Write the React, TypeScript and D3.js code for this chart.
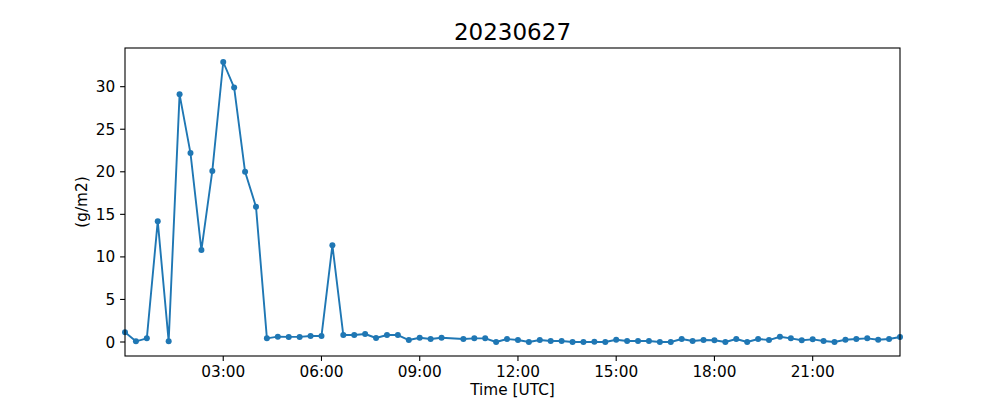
import * as d3 from 'd3';

// 20-minute samples for 2023-06-27 (10:00 is missing in the source)
const times = [
  '00:00', '00:20', '00:40', '01:00', '01:20', '01:40', '02:00', '02:20', '02:40',
  '03:00', '03:20', '03:40', '04:00', '04:20', '04:40', '05:00', '05:20', '05:40',
  '06:00', '06:20', '06:40', '07:00', '07:20', '07:40', '08:00', '08:20', '08:40',
  '09:00', '09:20', '09:40', '10:20', '10:40', '11:00', '11:20', '11:40',
  '12:00', '12:20', '12:40', '13:00', '13:20', '13:40', '14:00', '14:20', '14:40',
  '15:00', '15:20', '15:40', '16:00', '16:20', '16:40', '17:00', '17:20', '17:40',
  '18:00', '18:20', '18:40', '19:00', '19:20', '19:40', '20:00', '20:20', '20:40',
  '21:00', '21:20', '21:40', '22:00', '22:20', '22:40', '23:00', '23:20', '23:40',
];
const values = [
  1.14, 0.08, 0.43, 14.2, 0.08, 29.1, 22.2, 10.8, 20.1,
  32.9, 29.9, 20.0, 15.9, 0.43, 0.63, 0.6, 0.6, 0.7,
  0.7, 11.37, 0.82, 0.82, 0.94, 0.47, 0.82, 0.82, 0.23,
  0.5, 0.35, 0.5, 0.35, 0.43, 0.43, 0.0, 0.35,
  0.23, 0.0, 0.23, 0.12, 0.12, 0.0, 0.0, 0.02, 0.0,
  0.27, 0.12, 0.12, 0.12, 0.0, 0.0, 0.35, 0.12, 0.23,
  0.2, 0.0, 0.35, 0.0, 0.35, 0.23, 0.62, 0.43, 0.2,
  0.31, 0.12, 0.0, 0.27, 0.35, 0.43, 0.27, 0.35, 0.59,
];
const xTicks = ['03:00', '06:00', '09:00', '12:00', '15:00', '18:00', '21:00'];
const yTicks = [0, 5, 10, 15, 20, 25, 30];
const title = '20230627';
const xLabel = 'Time [UTC]';
const yLabel = '(g/m2)';

const toDate = (t: string) => new Date(`2023-06-27T${t}:00Z`);

const width = 1000;
const height = 400;
const margin = { left: 125, right: 100, top: 48, bottom: 44 };
const font = 'DejaVu Sans, sans-serif';
const blue = '#1f77b4';

export default function App() {
  const dates = times.map(toDate);
  const x = d3
    .scaleUtc()
    .domain([dates[0], dates[dates.length - 1]])
    .range([margin.left, width - margin.right]);

  // matplotlib-style 5% padding on the value axis
  const [lo, hi] = d3.extent(values) as [number, number];
  const pad = (hi - lo) * 0.05;
  const y = d3
    .scaleLinear()
    .domain([lo - pad, hi + pad])
    .range([height - margin.bottom, margin.top]);

  const line = d3
    .line<number>()
    .x((d, i) => x(dates[i]))
    .y((d) => y(d));

  const x0 = margin.left;
  const x1 = width - margin.right;
  const y0 = height - margin.bottom;
  const y1 = margin.top;

  return (
    <svg
      width={width}
      height={height}
      style={{ position: 'absolute', left: 0, top: 0, background: '#fff' }}
      fontFamily={font}
    >
      <rect x={0} y={0} width={width} height={height} fill="#fff" />

      {/* Title */}
      <text x={(x0 + x1) / 2} y={40} textAnchor="middle" fontSize={23} fill="#000">
        {title}
      </text>

      {/* Data line and markers */}
      <path
        d={line(values) ?? ''}
        fill="none"
        stroke={blue}
        strokeWidth={1.9}
        strokeLinejoin="round"
      />
      {values.map((v, i) => (
        <circle key={i} cx={x(dates[i])} cy={y(v)} r={3} fill={blue} />
      ))}

      {/* Axes frame */}
      <rect x={x0} y={y1} width={x1 - x0} height={y0 - y1} fill="none" stroke="#000" strokeWidth={1.1} />

      {/* X ticks */}
      {xTicks.map((t) => {
        const px = x(toDate(t));
        return (
          <g key={t}>
            <line x1={px} x2={px} y1={y0} y2={y0 + 4.9} stroke="#000" strokeWidth={1.1} />
            <text x={px} y={377} textAnchor="middle" fontSize={15.3} fill="#000">
              {t}
            </text>
          </g>
        );
      })}

      {/* Y ticks */}
      {yTicks.map((t) => {
        const py = y(t);
        return (
          <g key={t}>
            <line x1={x0 - 4.9} x2={x0} y1={py} y2={py} stroke="#000" strokeWidth={1.1} />
            <text x={x0 - 9.8} y={py + 5.5} textAnchor="end" fontSize={15.3} fill="#000">
              {t}
            </text>
          </g>
        );
      })}

      {/* Axis labels */}
      <text x={(x0 + x1) / 2} y={395} textAnchor="middle" fontSize={15.3} fill="#000">
        {xLabel}
      </text>
      <text
        transform={`translate(87, ${(y0 + y1) / 2}) rotate(-90)`}
        textAnchor="middle"
        fontSize={15.3}
        fill="#000"
      >
        {yLabel}
      </text>
    </svg>
  );
}
